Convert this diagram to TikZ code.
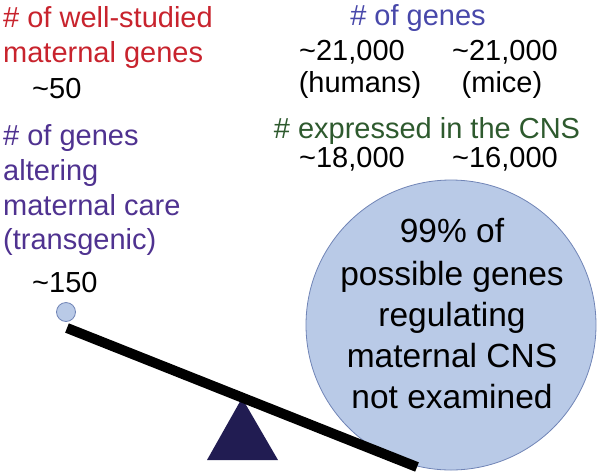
\documentclass[tikz,border=0pt]{standalone}
\usepackage{fontspec}
\setmainfont{Liberation Sans}
\definecolor{redtxt}{HTML}{C8232D}
\definecolor{bluetxt}{HTML}{4848AA}
\definecolor{purpletxt}{HTML}{4F3290}
\definecolor{greentxt}{HTML}{2E5A2E}
\definecolor{ballfill}{HTML}{B9CAE7}
\definecolor{balldraw}{HTML}{7084B6}
\definecolor{navy}{HTML}{211C52}
\tikzset{
  lbl/.style={inner sep=0pt, font=\fontsize{29}{35}\selectfont},
  bigtxt/.style={inner sep=0pt, font=\fontsize{33.5}{41.5}\selectfont, anchor=base},
  ball/.style={circle, draw=balldraw, fill=ballfill, line width=0.8pt, inner sep=0pt},
  beamline/.style={line width=10pt, black, line cap=butt},
}
\begin{document}
\begin{tikzpicture}[x=1pt,y=-1pt]
\useasboundingbox (0,0) rectangle (600,475);
% big ball
\node[ball, minimum size=290pt] (big) at (451,325) {};
% fulcrum
\coordinate (apex) at (242,398);
\coordinate (bl) at (207,460);
\coordinate (br) at (278,460);
\fill[navy] (apex) -- (bl) -- (br) -- cycle;
% beam
\coordinate (beamL) at (67,328);
\coordinate (beamR) at (417,467);
\draw[beamline] (beamL) -- (beamR);
% small ball
\node[ball, minimum size=19pt] (small) at (66,312) {};
% left texts
\node[lbl, anchor=base west, text=redtxt] (w1) at (3,27) {\# of well-studied};
\node[lbl, anchor=base west, text=redtxt] (w2) at (3,62) {maternal genes};
\node[lbl, anchor=base west] (w3) at (32,98) {\textasciitilde 50};
\node[lbl, anchor=base west, text=purpletxt] (t1) at (3,145) {\# of genes};
\node[lbl, anchor=base west, text=purpletxt] (t2) at (3,180) {altering};
\node[lbl, anchor=base west, text=purpletxt] (t3) at (3,215) {maternal care};
\node[lbl, anchor=base west, text=purpletxt] (t4) at (3,249) {(transgenic)};
\node[lbl, anchor=base west] (t5) at (32,292) {\textasciitilde 150};
% right texts
\node[lbl, anchor=base, text=bluetxt] (g1) at (418,25) {\# of genes};
\node[lbl, anchor=base] (g2) at (352,60) {\textasciitilde 21,000};
\node[lbl, anchor=base] (g3) at (505,60) {\textasciitilde 21,000};
\node[lbl, anchor=base] (g4) at (360,92) {(humans)};
\node[lbl, anchor=base] (g5) at (502,92) {(mice)};
\node[lbl, anchor=base, text=greentxt] (e1) at (427,138) {\# expressed in the CNS};
\node[lbl, anchor=base] (e2) at (352,167) {\textasciitilde 18,000};
\node[lbl, anchor=base] (e3) at (505,167) {\textasciitilde 16,000};
% ball text
\node[bigtxt] (c1) at (452,242) {99\% of};
\node[bigtxt] (c2) at (452,285) {possible genes};
\node[bigtxt] (c3) at (452,326) {regulating};
\node[bigtxt] (c4) at (452,367) {maternal CNS};
\node[bigtxt] (c5) at (452,408) {not examined};
\end{tikzpicture}
\end{document}
